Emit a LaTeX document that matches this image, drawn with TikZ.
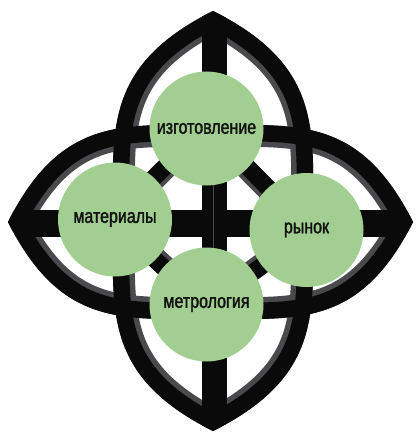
\documentclass[tikz,border=0pt]{standalone}
\usepackage{fontspec}
\setmainfont[FakeStretch=0.8,FakeBold=1.6]{Liberation Sans}
\pgfdeclarelayer{bg}
\pgfsetlayers{bg,main}
\definecolor{nodegreen}{RGB}{162,207,145}
\definecolor{bandgray}{RGB}{74,74,78}
\definecolor{inkblack}{RGB}{10,10,10}
\definecolor{txtcol}{RGB}{17,17,17}
\tikzset{
  topic/.style={circle, fill=nodegreen, minimum size=114pt, inner sep=0pt,
    font=\fontsize{20}{24}\selectfont, text=txtcol},
  linkgray/.style={draw=bandgray, line width=21pt},
  linkblack/.style={draw=inkblack, line width=17pt},
  lensgray/.style={draw=bandgray, line width=44pt},
  lensblack/.style={draw=inkblack, line width=33pt},
}
\def\vlenspath{(213,11) .. controls (103,66) and (113,131) .. (113,221)
  .. controls (113,311) and (103,376) .. (213,431)
  .. controls (323,376) and (313,311) .. (313,221)
  .. controls (313,131) and (323,66) .. (213,11) -- cycle}
\def\hlenspath{(8,222) .. controls (61,117) and (122,125) .. (210.5,125)
  .. controls (299,125) and (360,117) .. (413,222)
  .. controls (360,327) and (299,319) .. (210.5,319)
  .. controls (122,319) and (61,327) .. (8,222) -- cycle}
\begin{document}
\begin{tikzpicture}[x=1pt,y=-1pt]
\useasboundingbox (0,0) rectangle (415,433);
% nodes
\node[topic] (izg) at (206.5,128.5) {изготовление};
\node[topic] (mat) at (115,219.5) {материалы};
\node[topic] (ryn) at (306.5,230) {рынок};
\node[topic] (met) at (206.5,304.5) {метрология};
\begin{pgfonlayer}{bg}
  % gray inner bands
  \begin{scope}
    \clip \vlenspath;
    \path[lensgray] \vlenspath;
  \end{scope}
  \begin{scope}
    \clip \hlenspath;
    \path[lensgray] \hlenspath;
  \end{scope}
  % black outlines and cross bars
  \begin{scope}
    \clip \vlenspath;
    \path[lensblack] \vlenspath;
    \fill[inkblack] (202,0) rectangle (227,433);
  \end{scope}
  \begin{scope}
    \clip \hlenspath;
    \path[lensblack] \hlenspath;
    \fill[inkblack] (0,209.5) rectangle (415,236.5);
  \end{scope}
  % thin seam on vertical bar
  \coordinate (seamtop) at (213.5,185);
  \coordinate (seambot) at (213.5,249);
  \draw[bandgray, line width=1.5pt] (seamtop) -- (seambot);
  % connectors (diamond)
  \path[linkgray] (izg.center) -- (mat.center);
  \path[linkgray] (izg.center) -- (ryn.center);
  \path[linkgray] (mat.center) -- (met.center);
  \path[linkgray] (ryn.center) -- (met.center);
  \path[linkblack, transform canvas={shift={(-1.5,-1.5)}}] (izg.center) -- (mat.center);
  \path[linkblack, transform canvas={shift={(1.5,-1.5)}}] (izg.center) -- (ryn.center);
  \path[linkblack, transform canvas={shift={(-1.5,1.5)}}] (mat.center) -- (met.center);
  \path[linkblack, transform canvas={shift={(1.5,1.5)}}] (ryn.center) -- (met.center);
\end{pgfonlayer}
\end{tikzpicture}
\end{document}
